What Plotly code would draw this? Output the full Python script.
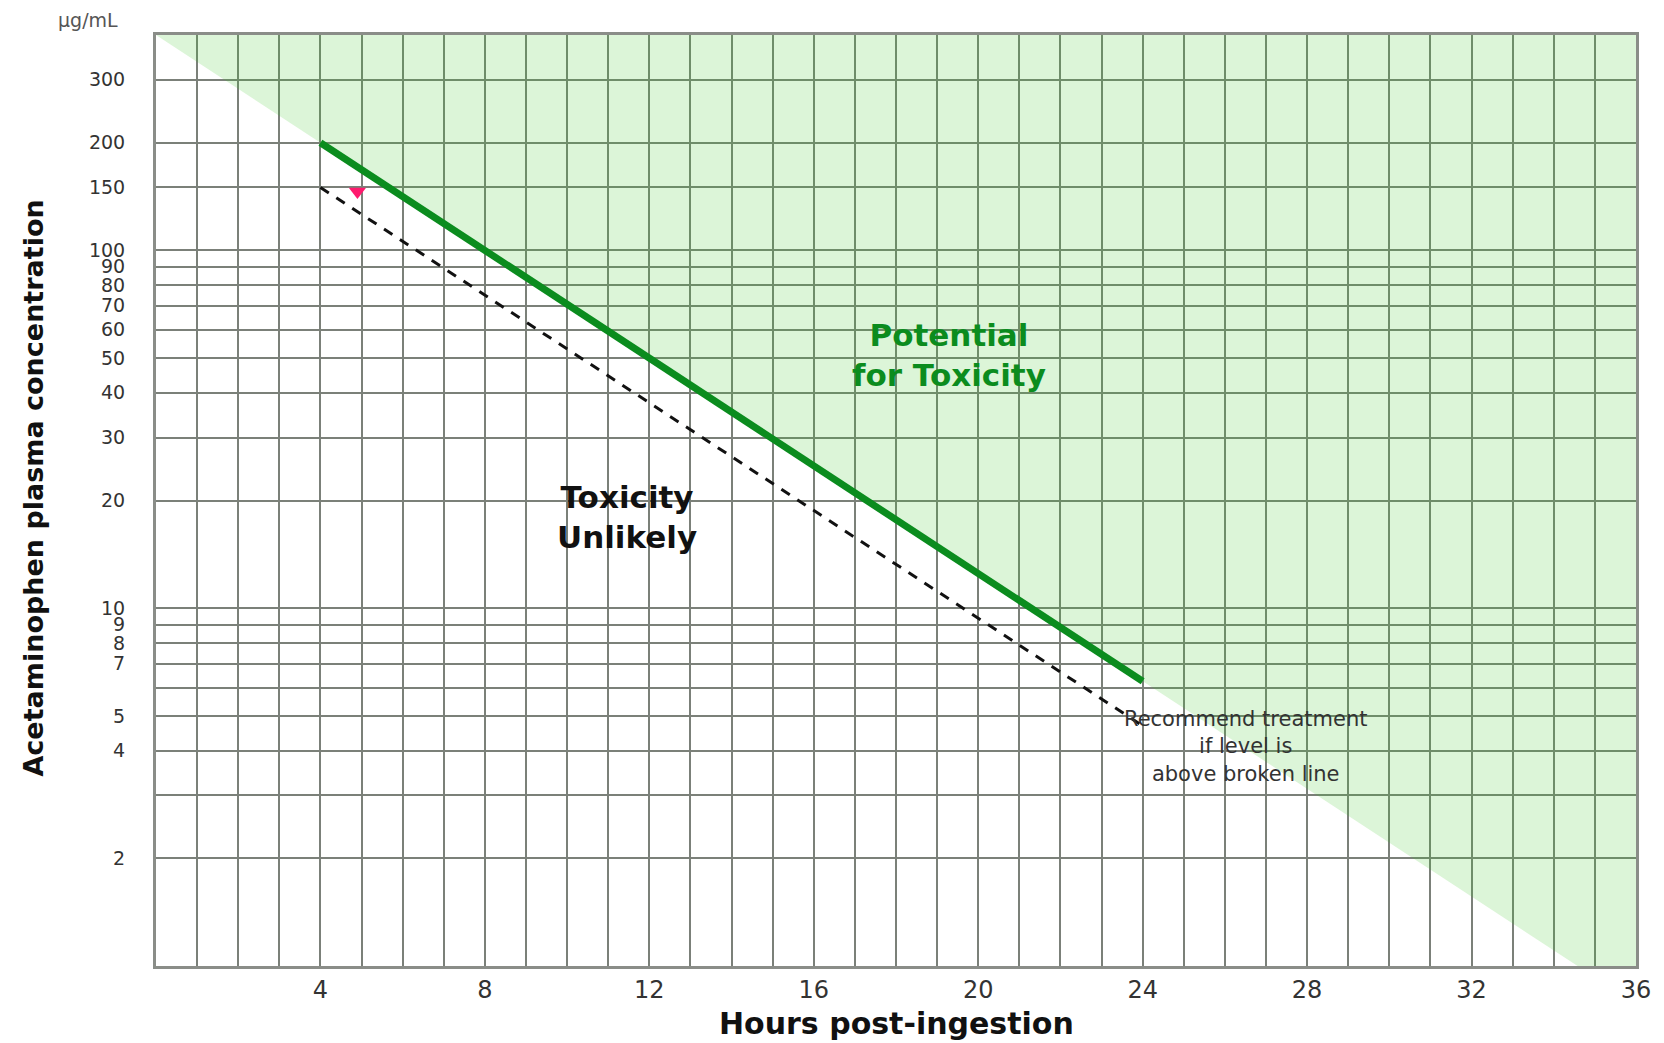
import math
import plotly.graph_objects as go

# ---- data ----
TREATMENT_HOURS = [4, 24]
TREATMENT_CONC = [200, 6.25]          # solid "treatment" line
BROKEN_HOURS = [4, 24]
BROKEN_CONC = [150, 4.69]             # broken (25% lower) line
REGION_HOURS = [0, 34.58, 36, 36, 0]  # "potential for toxicity" area
REGION_CONC = [400, 1, 1, 400, 400]
MARK_HOURS = [4.9]
MARK_CONC = [146]

X_TICKS = [4, 8, 12, 16, 20, 24, 28, 32, 36]
Y_TICKS = [300, 200, 150, 100, 90, 80, 70, 60, 50, 40, 30, 20, 10, 9, 8, 7, 6, 5, 4, 3, 2]
Y_TICK_TEXT = ["300", "200", "150", "100", "90", "80", "70", "60", "50", "40", "30", "20",
               "10", "9", "8", "7", "", "5", "4", "", "2"]

GRID = "#7b8079"

fig = go.Figure()

fig.add_trace(go.Scatter(
    x=REGION_HOURS, y=REGION_CONC, mode="lines", fill="toself",
    fillcolor="rgba(60,200,40,0.18)", line=dict(width=0), hoverinfo="skip", showlegend=False))

fig.add_trace(go.Scatter(
    x=BROKEN_HOURS, y=BROKEN_CONC, mode="lines",
    line=dict(color="#111111", width=3, dash="10px,9px"), showlegend=False))

fig.add_trace(go.Scatter(
    x=TREATMENT_HOURS, y=TREATMENT_CONC, mode="lines",
    line=dict(color="#0b8c1e", width=7), showlegend=False))

fig.add_trace(go.Scatter(
    x=MARK_HOURS, y=MARK_CONC, mode="markers",
    marker=dict(symbol="triangle-down", size=15, color="#ff1a6e"), showlegend=False))

fig.update_layout(
    width=1664, height=1043,
    margin=dict(l=148, r=36, t=27, b=85),
    paper_bgcolor="white", plot_bgcolor="white",
    font=dict(family="DejaVu Sans", color="#333333"),
    showlegend=False,
)

fig.update_xaxes(
    range=[0, 36], tickvals=X_TICKS, ticktext=[str(v) for v in X_TICKS],
    showgrid=True, gridcolor=GRID, gridwidth=2,
    minor=dict(dtick=1, showgrid=True, gridcolor=GRID, gridwidth=2),
    showline=True, linecolor="#8a8d88", linewidth=3, mirror=True,
    ticks="", tickfont=dict(size=24, color="#333333"), ticklabelstandoff=0,
    zeroline=False,
)
fig.update_yaxes(
    type="log", range=[0, math.log10(400)],
    tickvals=Y_TICKS, ticktext=Y_TICK_TEXT,
    showgrid=True, gridcolor=GRID, gridwidth=2,
    showline=True, linecolor="#8a8d88", linewidth=3, mirror=True,
    ticks="", tickfont=dict(size=19, color="#333333"), ticklabelstandoff=24,
    zeroline=False,
)

fig.add_annotation(text="µg/mL", xref="paper", yref="paper", x=-0.046, y=1.016,
                   xanchor="center", yanchor="middle", showarrow=False,
                   font=dict(size=19, color="#555555", family="DejaVu Sans"))
fig.add_annotation(text="<b>Acetaminophen plasma concentration</b>", xref="paper", yref="paper",
                   x=-0.083, y=0.513, xanchor="center", yanchor="middle", textangle=-90,
                   showarrow=False, font=dict(size=27, color="#111111", family="DejaVu Sans"))
fig.add_annotation(text="<b>Hours post-ingestion</b>", xref="paper", yref="paper",
                   x=0.50, y=-0.062, xanchor="center", yanchor="middle", showarrow=False,
                   font=dict(size=30, color="#111111", family="DejaVu Sans"))
fig.add_annotation(text="<b>Potential<br>for Toxicity</b>", x=19.3, y=math.log10(51),
                   showarrow=False, font=dict(size=31, color="#0b8c1e", family="DejaVu Sans"))
fig.add_annotation(text="<b>Toxicity<br>Unlikely</b>", x=11.45, y=math.log10(18),
                   showarrow=False, font=dict(size=31, color="#111111", family="DejaVu Sans"))
fig.add_annotation(text="Recommend treatment<br>if level is<br>above broken line",
                   x=26.5, y=math.log10(4.1), showarrow=False,
                   font=dict(size=21, color="#333333", family="DejaVu Sans"))

fig.write_html("out.html")
